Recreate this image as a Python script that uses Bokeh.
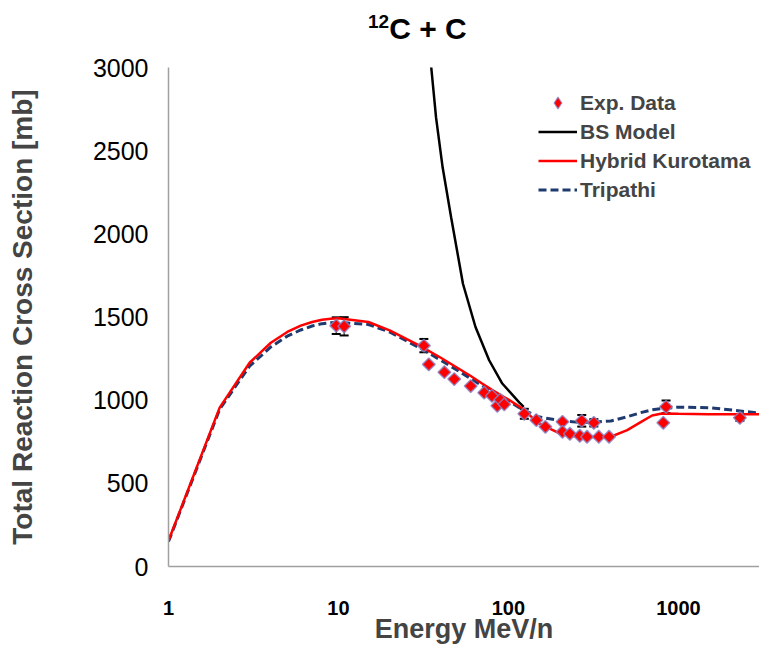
from bokeh.plotting import figure
from bokeh.models import (ColumnDataSource, Range1d, FixedTicker, Whisker, TeeHead,
                          Legend, LegendItem, NumeralTickFormatter, Div)
from bokeh.layouts import column
from bokeh.embed import file_html
from bokeh.resources import INLINE

# ---- data ----
exp_energy = [9.7, 10.8, 31.8, 34, 42, 48, 60, 72, 80, 86, 89.6, 94.5, 124, 146, 165,
              208, 208, 230, 263, 270, 290, 318, 340, 391, 815, 846, 2300]
exp_sigma = [1448, 1444, 1328, 1215, 1168, 1127, 1085, 1045, 1026, 966, 1002, 975, 918, 880, 840,
             870, 810, 798, 786, 876, 780, 864, 780, 780, 864, 960, 894]
exp_error = [50, 55, 40, 0, 0, 0, 0, 0, 0, 0, 0, 0, 30, 0, 0,
             0, 0, 0, 0, 35, 0, 22, 0, 0, 0, 38, 18]

model_energy = [1, 2, 3, 4, 5, 6, 7, 8, 9, 10, 15, 20, 30, 40, 50, 60, 70, 80, 90, 100,
                120, 150, 200, 250, 300, 400, 500, 600, 700, 800, 1000, 1500, 2000, 3000]
kurotama_sigma = [155, 955, 1225, 1345, 1410, 1448, 1470, 1484, 1490, 1492, 1470, 1420, 1328,
                  1255, 1195, 1145, 1100, 1062, 1030, 1003, 952, 862, 800, 782, 778, 780, 820,
                  868, 908, 920, 918, 916, 915, 915]
tripathi_sigma = [150, 945, 1205, 1320, 1385, 1422, 1446, 1460, 1466, 1468, 1455, 1410, 1315,
                  1240, 1180, 1130, 1088, 1052, 1022, 995, 945, 900, 878, 868, 866, 875, 900,
                  925, 942, 950, 958, 955, 942, 922]

bs_energy = [35, 37.5, 41, 46, 54, 64, 77, 92, 116, 123]
bs_sigma = [3020, 2700, 2400, 2100, 1700, 1440, 1240, 1100, 985, 960]

x_ticks = [1, 10, 100, 1000]
y_ticks = [0, 500, 1000, 1500, 2000, 2500, 3000]

FONT = "Liberation Sans"
TITLE_H = 44

title = Div(text="<sup style='font-size:19px'>12</sup>C + C", width=759, height=TITLE_H,
            styles={"font-family": FONT, "font-size": "30px", "font-weight": "bold",
                    "color": "black", "padding-left": "368px",
                    "line-height": f"{TITLE_H}px", "margin": "0", "background": "white"})

p = figure(width=759, height=646 - TITLE_H, x_axis_type="log",
           x_range=Range1d(1, 3000), y_range=Range1d(0, 3000),
           output_backend="svg", toolbar_location=None,
           min_border_left=168, min_border_right=0, min_border_top=67 - TITLE_H,
           min_border_bottom=79)
p.outline_line_color = None
p.background_fill_color = "white"
p.border_fill_color = "white"
p.xgrid.visible = False
p.ygrid.visible = False

# axes
for ax in (p.xaxis[0], p.yaxis[0]):
    ax.axis_line_color = "#a0a0a0"
    ax.axis_line_width = 1.5
    ax.major_tick_line_color = None
    ax.minor_tick_line_color = None
    ax.major_label_text_font = FONT
    ax.axis_label_text_font = FONT
    ax.axis_label_text_font_style = "bold"
    ax.major_label_text_color = "black"

p.xaxis.ticker = FixedTicker(ticks=x_ticks)
p.xaxis.formatter = NumeralTickFormatter(format="0")
p.xaxis.major_label_text_font_size = "20px"
p.xaxis.major_label_text_font_style = "bold"
p.xaxis.major_label_standoff = 28
p.xaxis.axis_label = "Energy MeV/n"
p.xaxis.axis_label_text_font_size = "27px"
p.xaxis.axis_label_standoff = -4

p.yaxis.ticker = FixedTicker(ticks=y_ticks)
p.yaxis.major_label_text_font_size = "25px"
p.yaxis.major_label_standoff = 14
p.yaxis.axis_label = "Total Reaction Cross Section [mb]"
p.yaxis.axis_label_text_font_size = "28px"
p.yaxis.axis_label_standoff = 52

# error bars
err_idx = [i for i, e in enumerate(exp_error) if e > 0]
err_src = ColumnDataSource(dict(
    x=[exp_energy[i] for i in err_idx],
    upper=[exp_sigma[i] + exp_error[i] for i in err_idx],
    lower=[exp_sigma[i] - exp_error[i] for i in err_idx],
))
p.add_layout(Whisker(base="x", upper="upper", lower="lower", source=err_src,
                     dimension="height", line_color="black", line_width=1,
                     upper_head=TeeHead(size=9, line_color="black", line_width=2),
                     lower_head=TeeHead(size=9, line_color="black", line_width=2)))

# model lines
r_bs = p.line(bs_energy, bs_sigma, line_color="black", line_width=2.5)
r_trip = p.line(model_energy, tripathi_sigma, line_color="#1f3a6e", line_width=3,
                line_dash="8 4")
r_kuro = p.line(model_energy, kurotama_sigma, line_color="#ff0000", line_width=2.5)

# experimental data
p.scatter(exp_energy, exp_sigma, marker="square", angle=0.785398, size=9,
          fill_color="#ff0000", line_color="#8585c8", line_width=1.5, line_alpha=0.8)
# legend swatch for the data series (a single NaN point, never drawn in the plot)
nan = float("nan")
r_exp_key = p.scatter(x=[nan], y=[nan], marker="diamond", size=12,
                      fill_color="#ff0000", line_color="#8585c8", line_width=1.2,
                      line_alpha=0.8)

legend = Legend(items=[
    LegendItem(label="Exp. Data", renderers=[r_exp_key]),
    LegendItem(label="BS Model", renderers=[r_bs]),
    LegendItem(label="Hybrid Kurotama", renderers=[r_kuro]),
    LegendItem(label="Tripathi", renderers=[r_trip]),
], location=(370, 362))
legend.border_line_color = None
legend.background_fill_alpha = 0
legend.padding = 0
legend.margin = 0
legend.spacing = 0
legend.glyph_width = 39
legend.glyph_height = 29
legend.label_height = 29
legend.label_standoff = 3
legend.label_text_font = FONT
legend.label_text_font_size = "21px"
legend.label_text_font_style = "bold"
p.add_layout(legend, "center")

layout = column(title, p, spacing=0)
open("out.html", "w").write(file_html(layout, INLINE))
